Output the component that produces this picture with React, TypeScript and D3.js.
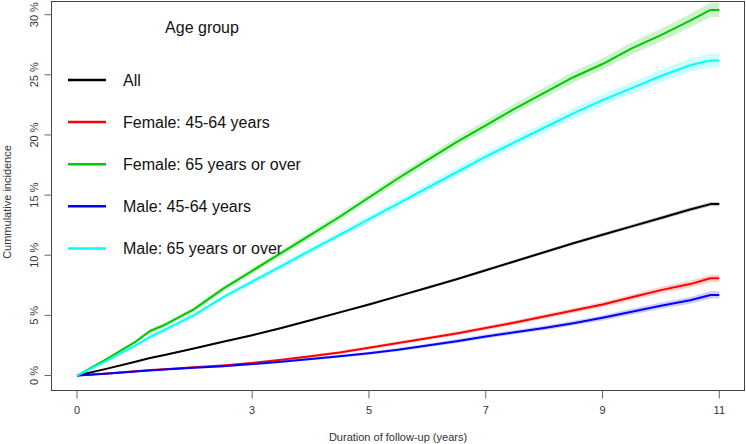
import React from "react";
import * as d3 from "d3";

const times = [0, 0.5, 1, 1.25, 1.5, 2, 2.5, 3, 3.5, 4, 4.5, 5, 5.5, 6, 6.5, 7, 7.5, 8, 8.5, 9, 9.5, 10, 10.5, 10.85, 11];

const allValues = [0, 0.55, 1.15, 1.45, 1.7, 2.25, 2.8, 3.35, 3.95, 4.6, 5.25, 5.9, 6.6, 7.3, 8.0, 8.75, 9.5, 10.25, 11.0, 11.7, 12.4, 13.1, 13.8, 14.25, 14.25];
const female4564 = [0, 0.17, 0.35, 0.45, 0.52, 0.68, 0.84, 1.05, 1.3, 1.6, 1.92, 2.3, 2.7, 3.1, 3.5, 3.95, 4.4, 4.9, 5.4, 5.9, 6.5, 7.1, 7.6, 8.08, 8.08];
const female65 = [0, 1.35, 2.8, 3.7, 4.2, 5.5, 7.2, 8.7, 10.2, 11.7, 13.2, 14.8, 16.4, 17.9, 19.4, 20.8, 22.2, 23.5, 24.8, 25.9, 27.2, 28.3, 29.5, 30.4, 30.4];
const male4564 = [0, 0.15, 0.33, 0.42, 0.5, 0.64, 0.77, 0.95, 1.15, 1.38, 1.6, 1.85, 2.15, 2.5, 2.85, 3.25, 3.6, 3.95, 4.35, 4.8, 5.3, 5.8, 6.25, 6.7, 6.7];
const male65 = [0, 1.2, 2.5, 3.2, 3.8, 5.0, 6.5, 7.8, 9.1, 10.4, 11.7, 13.0, 14.3, 15.6, 16.9, 18.2, 19.4, 20.6, 21.8, 22.9, 23.9, 24.9, 25.8, 26.2, 26.2];

// confidence band half-widths (percentage points)
const allCI = [0, 0.04, 0.05, 0.06, 0.06, 0.07, 0.07, 0.08, 0.08, 0.09, 0.09, 0.1, 0.1, 0.11, 0.11, 0.12, 0.12, 0.13, 0.13, 0.14, 0.15, 0.16, 0.17, 0.18, 0.18];
const female4564CI = [0, 0.04, 0.05, 0.06, 0.06, 0.07, 0.08, 0.09, 0.1, 0.11, 0.12, 0.13, 0.14, 0.15, 0.16, 0.17, 0.18, 0.19, 0.2, 0.22, 0.24, 0.26, 0.28, 0.3, 0.3];
const female65CI = [0, 0.1, 0.15, 0.17, 0.18, 0.2, 0.22, 0.24, 0.26, 0.28, 0.3, 0.32, 0.34, 0.36, 0.38, 0.4, 0.42, 0.44, 0.46, 0.48, 0.5, 0.53, 0.56, 0.6, 0.6];
const male4564CI = [0, 0.04, 0.05, 0.06, 0.06, 0.07, 0.08, 0.09, 0.1, 0.11, 0.12, 0.13, 0.14, 0.15, 0.16, 0.17, 0.18, 0.19, 0.2, 0.22, 0.24, 0.26, 0.28, 0.3, 0.3];
const male65CI = [0, 0.1, 0.14, 0.16, 0.17, 0.19, 0.21, 0.23, 0.25, 0.27, 0.29, 0.31, 0.33, 0.35, 0.37, 0.39, 0.41, 0.43, 0.45, 0.47, 0.49, 0.52, 0.55, 0.58, 0.58];

const seriesNames = ["All", "Female: 45-64 years", "Female: 65 years or over", "Male: 45-64 years", "Male: 65 years or over"];
const seriesColors = ["#000000", "#FF0000", "#00C800", "#0000FF", "#00FFFF"];
const seriesValues = [allValues, female4564, female65, male4564, male65];
const seriesCI = [allCI, female4564CI, female65CI, male4564CI, male65CI];

const xTicks = [0, 3, 5, 7, 9, 11];
const yTicks = [0, 5, 10, 15, 20, 25, 30];

const legendTitle = "Age group";
const xTitle = "Duration of follow-up (years)";
const yTitle = "Cummulative incidence";

export default function App() {
  const W = 746, H = 444;
  const frame = { left: 51.5, right: 744.5, top: 1.5, bottom: 390.5 };
  const x = d3.scaleLinear().domain([0, 11]).range([77, 719.3]);
  const y = d3.scaleLinear().domain([0, 30]).range([375.5, 14.7]);
  const font = "'Liberation Sans', Arial, sans-serif";

  const line = d3.line<number>().x((_, i) => x(times[i])).y((v) => y(v));

  return (
    <svg width={W} height={H} style={{ position: "absolute", left: 0, top: 0, background: "#fff" }} fontFamily={font}>
      <rect x={0} y={0} width={W} height={H} fill="#fff" />
      {/* bands */}
      {seriesValues.map((vals, s) => {
        const ci = seriesCI[s];
        const area = d3
          .area<number>()
          .x((_, i) => x(times[i]))
          .y0((v, i) => y(v - ci[i]))
          .y1((v, i) => y(v + ci[i]));
        return <path key={"b" + s} d={area(vals) || ""} fill={seriesColors[s]} fillOpacity={0.2} stroke="none" />;
      })}
      {/* lines */}
      {seriesValues.map((vals, s) => (
        <path key={"l" + s} d={line(vals) || ""} fill="none" stroke={seriesColors[s]} strokeWidth={2} strokeLinejoin="round" />
      ))}
      {/* frame */}
      <rect x={frame.left} y={frame.top} width={frame.right - frame.left} height={frame.bottom - frame.top} fill="none" stroke="#444" strokeWidth={1} />
      {/* x axis */}
      {xTicks.map((t) => (
        <g key={"xt" + t}>
          <line x1={x(t)} x2={x(t)} y1={frame.bottom} y2={frame.bottom + 8} stroke="#666" strokeWidth={1} />
          <text x={x(t)} y={414} fontSize={11} textAnchor="middle" fill="#333">{t}</text>
        </g>
      ))}
      <text x={398} y={441} fontSize={11} textAnchor="middle" fill="#333">{xTitle}</text>
      {/* y axis */}
      {yTicks.map((t) => (
        <g key={"yt" + t}>
          <line x1={frame.left - 7} x2={frame.left} y1={y(t)} y2={y(t)} stroke="#666" strokeWidth={1} />
          <text transform={`translate(37.5,${y(t)}) rotate(-90)`} fontSize={11} textAnchor="middle" fill="#333">{t + " %"}</text>
        </g>
      ))}
      <text transform={`translate(11,202) rotate(-90)`} fontSize={11} textAnchor="middle" fill="#333">{yTitle}</text>
      {/* legend */}
      <text x={202} y={33} fontSize={16} textAnchor="middle" fill="#111">{legendTitle}</text>
      {seriesNames.map((name, i) => {
        const ly = 80 + i * 42.1;
        return (
          <g key={"lg" + i}>
            <line x1={68} x2={106} y1={ly} y2={ly} stroke={seriesColors[i]} strokeWidth={2.5} />
            <text x={123} y={ly + 6} fontSize={16} fill="#111">{name}</text>
          </g>
        );
      })}
    </svg>
  );
}
